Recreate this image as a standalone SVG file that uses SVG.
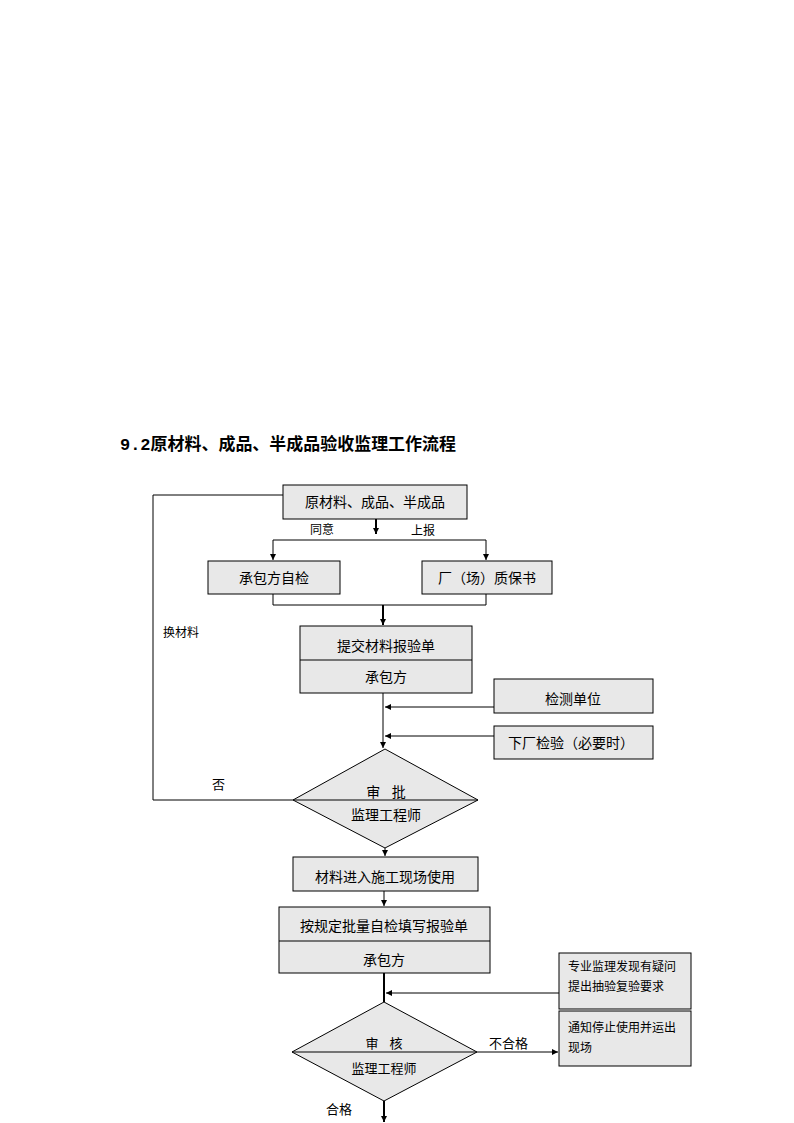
<svg xmlns="http://www.w3.org/2000/svg" width="794" height="1123" viewBox="0 0 794 1123">
<defs>
<marker id="ah" markerWidth="8" markerHeight="8" refX="6" refY="3" orient="auto" markerUnits="userSpaceOnUse">
<path d="M0,0 L6,3 L0,6 Z" fill="#000"/>
</marker>
<style>
.box{fill:#e8e8e8;stroke:#000;stroke-width:1}
.ln{fill:none;stroke:#000;stroke-width:1}
.tk{fill:none;stroke:#000;stroke-width:2}
.t{font-family:"Liberation Sans","Noto Sans CJK SC",sans-serif;font-size:14px;fill:#000;text-anchor:middle}
.s{font-family:"Liberation Sans","Noto Sans CJK SC",sans-serif;font-size:12px;fill:#000}
.title{font-family:"Liberation Mono","Noto Sans CJK SC",monospace;font-size:17px;font-weight:bold;fill:#000}
</style>
</defs>
<rect width="794" height="1123" fill="#fff"/>
<text class="title" x="120" y="450" textLength="336" lengthAdjust="spacingAndGlyphs">9.2原材料、成品、半成品验收监理工作流程</text>

<g id="connectors">
<path class="tk" d="M376,519 V534" marker-end="url(#ah)"/>
<path class="ln" d="M273,540 H486"/>
<path class="ln" d="M273,540 V560" marker-end="url(#ah)"/>
<path class="ln" d="M486,540 V560" marker-end="url(#ah)"/>
<path class="ln" d="M273,594 V605 H486 V594"/>
<path class="tk" d="M383,605 V625" marker-end="url(#ah)"/>
<path class="ln" d="M383,693 V748" marker-end="url(#ah)"/>
<path class="ln" d="M494,707 H385" marker-end="url(#ah)"/>
<path class="ln" d="M494,736 H385" marker-end="url(#ah)"/>
<path class="ln" d="M293,800 H153 V495 H283"/>
<path class="ln" d="M385,848 V856" marker-end="url(#ah)"/>
<path class="ln" d="M384,891 V906" marker-end="url(#ah)"/>
<path class="tk" d="M384,973 V1002"/>
<path class="ln" d="M559,993 H386" marker-end="url(#ah)"/>
<path class="ln" d="M477,1052 H558" marker-end="url(#ah)"/>
<path class="tk" d="M384,1101 V1122" marker-end="url(#ah)"/>
<text class="s" x="322" y="534" text-anchor="middle">同意</text>
<text class="s" x="423" y="535" text-anchor="middle">上报</text>
<text class="s" x="163" y="637">换材料</text>
<text class="s" x="212" y="789" style="font-size:13px">否</text>
<text class="s" x="489" y="1048" style="font-size:13px">不合格</text>
<text class="s" x="326" y="1114" style="font-size:13px">合格</text>
</g>

<g id="n1"><rect class="box" x="283" y="485" width="184" height="34"/><text class="t" x="375" y="507">原材料、成品、半成品</text></g>
<g id="n2"><rect class="box" x="208" y="561" width="132" height="33"/><text class="t" x="274" y="583">承包方自检</text></g>
<g id="n3"><rect class="box" x="422" y="561" width="130" height="33"/><text class="t" x="487" y="583">厂（场）质保书</text></g>
<g id="n4"><rect class="box" x="300" y="626" width="172" height="67"/><line class="ln" x1="300" y1="660" x2="472" y2="660"/><text class="t" x="386" y="651">提交材料报验单</text><text class="t" x="386" y="682">承包方</text></g>
<g id="n5"><rect class="box" x="494" y="679" width="159" height="34"/><text class="t" x="573" y="704">检测单位</text></g>
<g id="n6"><rect class="box" x="494" y="726" width="159" height="33"/><text class="t" x="571" y="748">下厂检验（必要时）</text></g>
<g id="n7"><path class="box" d="M385,749 L478,800 L385,848 L293,800 Z"/><line class="ln" x1="293" y1="800" x2="478" y2="800"/><text class="t" x="386" y="797" xml:space="preserve">审   批</text><text class="t" x="386" y="820">监理工程师</text></g>
<g id="n8"><rect class="box" x="293" y="857" width="185" height="34"/><text class="t" x="385" y="882">材料进入施工现场使用</text></g>
<g id="n9"><rect class="box" x="279" y="907" width="211" height="66"/><line class="ln" x1="279" y1="941" x2="490" y2="941"/><text class="t" x="384" y="931">按规定批量自检填写报验单</text><text class="t" x="384" y="965">承包方</text></g>
<g id="n10"><rect class="box" x="559" y="953" width="132" height="56"/><text class="s" x="568" y="971">专业监理发现有疑问</text><text class="s" x="568" y="991">提出抽验复验要求</text></g>
<g id="n11"><rect class="box" x="559" y="1011" width="132" height="55"/><text class="s" x="568" y="1032">通知停止使用并运出</text><text class="s" x="568" y="1052">现场</text></g>
<g id="n12"><path class="box" d="M384,1002 L477,1052 L384,1101 L292,1052 Z"/><line class="ln" x1="292" y1="1052" x2="477" y2="1052"/><text class="t" x="384" y="1048" style="font-size:13px" xml:space="preserve">审   核</text><text class="t" x="384" y="1073" style="font-size:13px">监理工程师</text></g>
</svg>
